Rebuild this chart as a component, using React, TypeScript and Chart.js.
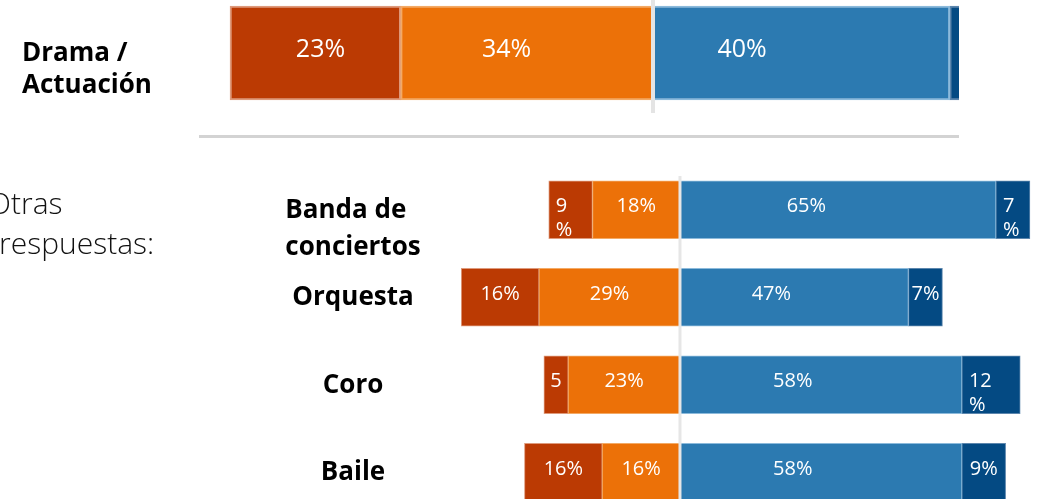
import React, { useEffect, useRef } from 'react';
import { Chart, registerables } from 'chart.js';

Chart.register(...registerables);

// ---- Data: main item ----
const topCategories = [['Drama /', 'Actuación']];
const topMuyEnDesacuerdo = [23];
const topEnDesacuerdo = [34];
const topDeAcuerdo = [40];
const topMuyDeAcuerdo = [3];
const topMuyEnDesacuerdoText = ['23%'];
const topEnDesacuerdoText = ['34%'];
const topDeAcuerdoText = ['40%'];
const topMuyDeAcuerdoText = [''];

// ---- Data: other answers ----
const otherCategories = [['Banda de', 'conciertos'], ['Orquesta'], ['Coro'], ['Baile']];
const muyEnDesacuerdo = [9, 16, 5, 16];
const enDesacuerdo = [18, 29, 23, 16];
const deAcuerdo = [65, 47, 58, 58];
const muyDeAcuerdo = [7, 7, 12, 9];
const muyEnDesacuerdoText = ['9\n%', '16%', '5', '16%'];
const enDesacuerdoText = ['18%', '29%', '23%', '16%'];
const deAcuerdoText = ['65%', '47%', '58%', '58%'];
const muyDeAcuerdoText = ['7\n%', '7%', '12\n%', '9%'];

const sideTitle = ['Otras', 'respuestas:'];

// ---- Colours ----
const C_DARK_RED = '#BB3A03';
const C_ORANGE = '#EC7108';
const C_BLUE = '#2C7AB1';
const C_NAVY = '#044A83';
const B_DARK_RED = '#DE9A7C';
const B_ORANGE = '#F3AA66';
const B_BLUE = '#8CBADB';
const B_NAVY = '#5C86AD';

const FONT = '"Open Sans", "Noto Sans", sans-serif';

const decorPlugin = {
  id: 'decor',
  afterDatasetsDraw(chart: any, _args: any, opts: any) {
    const ctx = chart.ctx;
    const xs = chart.scales.x;
    const ys = chart.scales.y;
    const area = chart.chartArea;

    // value labels
    chart.data.datasets.forEach((ds: any, di: number) => {
      const meta = chart.getDatasetMeta(di);
      meta.data.forEach((bar: any, i: number) => {
        const txt = ds.valueText ? ds.valueText[i] : '';
        if (!txt) return;
        const p = bar.getProps(['x', 'y', 'base', 'height'], true);
        const left = Math.min(p.x, p.base);
        const right = Math.max(p.x, p.base);
        const top = p.y - p.height / 2;
        const bottom = p.y + p.height / 2;
        ctx.save();
        ctx.beginPath();
        ctx.rect(left, top, right - left, bottom - top);
        ctx.clip();
        ctx.fillStyle = '#ffffff';
        ctx.font = opts.valueFont;
        ctx.textBaseline = 'middle';
        const lines = String(txt).split('\n');
        if (lines.length > 1) {
          ctx.textAlign = 'left';
          lines.forEach((l: string, k: number) => ctx.fillText(l, left + 7, p.y - 3 + k * opts.valueLineHeight));
        } else {
          ctx.textAlign = 'center';
          const frac = ds.labelFraction != null ? ds.labelFraction : 0.5;
          ctx.fillText(txt, left + (right - left) * frac, p.y - 3);
        }
        ctx.restore();
      });
    });

    // zero line
    const zx = xs.getPixelForValue(0);
    ctx.save();
    ctx.fillStyle = opts.zeroColor;
    const zt = area.top + opts.zeroTopInset;
    const zb = area.bottom + opts.zeroBottomExtra;
    ctx.fillRect(zx - opts.zeroWidth / 2, zt, opts.zeroWidth, zb - zt);
    ctx.restore();

    // category labels (multi-line blocks are left-aligned inside their box)
    ctx.save();
    ctx.fillStyle = '#000000';
    ctx.font = opts.catFont;
    ctx.textAlign = 'left';
    ctx.textBaseline = 'alphabetic';
    chart.data.labels.forEach((lab: any, i: number) => {
      const cy = ys.getPixelForTick(i);
      const lines: string[] = Array.isArray(lab) ? lab : [lab];
      const maxW = Math.max(...lines.map((l) => ctx.measureText(l).width));
      const bx = opts.catAlign === 'center' ? opts.catX - maxW / 2 : opts.catX;
      lines.forEach((l: string, k: number) => {
        ctx.fillText(l, bx, cy + opts.catBaseline + k * opts.catLineHeight);
      });
    });
    ctx.restore();
  },
};

function makeDatasets(
  vals: number[][],
  texts: string[][],
  thickness: number,
  borderW: number,
  fracs: number[]
) {
  const colors = [C_ORANGE, C_DARK_RED, C_BLUE, C_NAVY];
  const borders = [B_ORANGE, B_DARK_RED, B_BLUE, B_NAVY];
  const names = ['En desacuerdo', 'Muy en desacuerdo', 'De acuerdo', 'Muy de acuerdo'];
  return vals.map((v, k) => ({
    label: names[k],
    data: k < 2 ? v.map((n) => -n) : v,
    valueText: texts[k],
    labelFraction: fracs[k],
    backgroundColor: colors[k],
    borderColor: borders[k],
    borderWidth: borderW,
    borderSkipped: false,
    barThickness: thickness,
  }));
}

function baseOptions(xMin: number, xMax: number, padBottom: number, decor: any) {
  return {
    indexAxis: 'y' as const,
    responsive: false,
    animation: false as const,
    layout: { padding: { left: 0, right: 0, top: 0, bottom: padBottom } },
    plugins: {
      legend: { display: false },
      tooltip: { enabled: false },
      decor,
    },
    scales: {
      x: { stacked: true, display: false, min: xMin, max: xMax },
      y: { stacked: true, display: false },
    },
  };
}

export default function App() {
  const topRef = useRef<HTMLCanvasElement>(null);
  const botRef = useRef<HTMLCanvasElement>(null);

  useEffect(() => {
    const top = new Chart(topRef.current as HTMLCanvasElement, {
      type: 'bar',
      data: {
        labels: topCategories as any,
        datasets: makeDatasets(
          [topEnDesacuerdo, topMuyEnDesacuerdo, topDeAcuerdo, topMuyDeAcuerdo],
          [topEnDesacuerdoText, topMuyEnDesacuerdoText, topDeAcuerdoText, topMuyDeAcuerdoText],
          94,
          2,
          [0.42, 0.53, 0.3, 0.5]
        ) as any,
      },
      options: baseOptions(-88.0, 41.24, 14, {
        valueFont: `25px ${FONT}`,
        valueLineHeight: 28,
        zeroColor: '#E4E4E4',
        zeroWidth: 4,
        zeroTopInset: 0,
        zeroBottomExtra: 7,
        catFont: `bold 26px ${FONT}`,
        catAlign: 'left',
        catX: 22,
        catBaseline: 8,
        catLineHeight: 32,
      }) as any,
      plugins: [decorPlugin],
    });

    const bot = new Chart(botRef.current as HTMLCanvasElement, {
      type: 'bar',
      data: {
        labels: otherCategories as any,
        datasets: makeDatasets(
          [enDesacuerdo, muyEnDesacuerdo, deAcuerdo, muyDeAcuerdo],
          [enDesacuerdoText, muyEnDesacuerdoText, deAcuerdoText, muyDeAcuerdoText],
          58,
          1,
          [0.5, 0.5, 0.4, 0.5]
        ) as any,
      },
      options: baseOptions(-139.9, 73.66, 0, {
        valueFont: `20px ${FONT}`,
        valueLineHeight: 24,
        zeroColor: '#E6E6E6',
        zeroWidth: 3,
        zeroTopInset: 10,
        zeroBottomExtra: 0,
        catFont: `bold 26px ${FONT}`,
        catAlign: 'center',
        catX: 353,
        catBaseline: 8,
        catLineHeight: 37,
      }) as any,
      plugins: [decorPlugin],
    });

    return () => {
      top.destroy();
      bot.destroy();
    };
  }, []);

  const sideStyle = {
    position: 'absolute' as const,
    fontFamily: FONT,
    fontWeight: 300,
    fontSize: 30,
    lineHeight: '40px',
    color: '#111',
    whiteSpace: 'nowrap' as const,
  };

  return (
    <div
      style={{
        position: 'absolute',
        left: 0,
        top: 0,
        width: 1038,
        height: 499,
        overflow: 'hidden',
        background: '#ffffff',
      }}
    >
      <canvas ref={topRef} width={959} height={120} style={{ position: 'absolute', left: 0, top: 0 }} />
      <div style={{ position: 'absolute', left: 199, top: 135, width: 760, height: 3, background: '#D3D3D3' }} />
      <canvas ref={botRef} width={1038} height={350} style={{ position: 'absolute', left: 0, top: 166 }} />
      <div style={{ ...sideStyle, left: -12, top: 183 }}>{sideTitle[0]}</div>
      <div style={{ ...sideStyle, left: -1, top: 223 }}>{sideTitle[1]}</div>
    </div>
  );
}
